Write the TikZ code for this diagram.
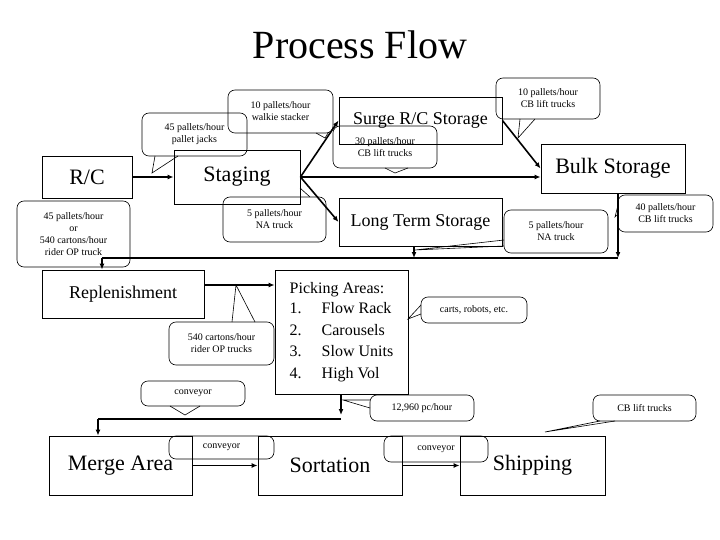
\documentclass[tikz,border=0pt]{standalone}
\usepackage{fontspec}
\setmainfont{Liberation Serif}
\usetikzlibrary{arrows.meta}
\begin{document}
\begin{tikzpicture}[x=1pt,y=-1pt,
  box/.style={draw,line width=0.9pt,rectangle,inner sep=2pt},
  call/.style={draw,line width=0.6pt,rounded corners=7pt,inner sep=0pt,align=center,font=\fontsize{10}{12}\selectfont},
  arr/.style={line width=1.6pt,-{Latex[length=6pt,width=5pt]}},
  ln/.style={line width=1.6pt},
  tail/.style={line width=0.6pt}]
\newcommand\mycall[6]{\node[call,minimum width={(#4-#2)*1pt},minimum height={(#5-#3)*1pt}] (#1) at ({(#2+#4)/2},{(#3+#5)/2}) {#6};}
\newcommand\mybox[6]{\node[box,minimum width={(#4-#2)*1pt},minimum height={(#5-#3)*1pt}] (#1) at ({(#2+#4)/2},{(#3+#5)/2}) {#6};}
\useasboundingbox (0,0) rectangle (720,540);
\node (title) at (360,45) {\fontsize{40}{44}\selectfont Process Flow};
% boxes
\mybox{rc}{42}{156}{132}{198}{\fontsize{22}{24}\selectfont R/C\hspace{30pt}}
\mybox{stg}{174}{150}{300}{204}{\fontsize{22}{24}\selectfont Staging}
\mybox{sur}{339}{97}{502}{144}{\fontsize{18}{20}\selectfont Surge R/C Storage}
\mybox{bulk}{541}{144}{685}{193}{\fontsize{22}{24}\selectfont Bulk Storage}
\mybox{lts}{339}{198}{502}{246}{\fontsize{18}{20}\selectfont Long Term Storage}
\mybox{rep}{42}{270}{204}{318}{\fontsize{18}{20}\selectfont Replenishment\hspace{25pt}}
\node[box,minimum width=133pt,minimum height=124pt,align=left,font=\fontsize{16}{21.5}\selectfont] (pick) at (341.5,332) {Picking Areas:\\[-1pt]1.\hspace{20pt}Flow Rack\\2.\hspace{20pt}Carousels\\3.\hspace{20pt}Slow Units\\4.\hspace{20pt}High Vol};
\mybox{merge}{49}{436}{192}{495}{\fontsize{22}{24}\selectfont Merge Area}
\mybox{sort}{258}{436}{402}{495}{\fontsize{22}{24}\selectfont Sortation}
\mybox{ship}{460}{436}{605}{495}{\fontsize{22}{24}\selectfont Shipping\hspace{15pt}}
% connectors
\draw[arr] (rc.east) -- (stg.west);
\draw[arr] (stg.east) -- (sur.west);
\draw[arr] (stg.east) -- (stg.east -| bulk.west);
\draw[arr] (stg.east) -- (lts.west);
\draw[arr] (sur.east) -- (bulk.west);
\coordinate (j1) at (618,258);
\coordinate (j2) at (414,258);
\coordinate (j3) at (102,258);
\draw[arr] (bulk.south -| j1) -- (j1);
\draw[arr] (lts.south -| j2) -- (j2);
\draw[ln] (j1) -- (j3);
\draw[arr] (j3) -- (rep.north -| j3);
\draw[arr] (rep.east |- 0,285) -- (pick.west |- 0,285);
\coordinate (p1) at (341,415);
\coordinate (p2) at (341,419);
\coordinate (p3) at (98,419);
\draw[arr] (pick.south -| p1) -- (p1);
\draw[ln] (p2) -- (p3);
\draw[arr] (p3) -- (merge.north -| p3);
\draw[arr] (merge.east) -- (sort.west);
\draw[arr] (sort.east) -- (ship.west);
% callouts
\mycall{c1}{142}{113}{247}{156}{45 pallets/hour\\pallet jacks}
\draw[tail] (155,156) -- (152,173) -- (178,156);
\mycall{c2}{228}{90}{333}{133}{10 pallets/hour\\walkie stacker}
\draw[tail] (316,133) -- (325,138) -- (328,133);
\mycall{c3}{223}{197}{326}{242}{5 pallets/hour\\NA truck}
\draw[tail] (300,188) -- (310,197);
\mycall{c4}{17}{201}{130}{267}{45 pallets/hour\\or\\540 cartons/hour\\rider OP truck}
\mycall{c5}{333}{126}{437}{168}{30 pallets/hour\\CB lift trucks}
\draw[tail] (385,168) -- (395,173) -- (408,168);
\mycall{c6}{496}{78}{600}{119}{10 pallets/hour\\CB lift trucks}
\draw[tail] (520,119) -- (518,138) -- (535,119);
\mycall{c7}{618}{195}{713}{232}{40 pallets/hour\\CB lift trucks}
\draw[tail] (618,205) -- (615,217) -- (618,214);
\mycall{c8}{504}{210}{608}{253}{5 pallets/hour\\NA truck}
\draw[tail] (504,240) -- (415,250) -- (504,246);
\mycall{c9}{421}{297}{527}{323}{carts, robots, etc.}
\draw[tail] (421,305) -- (408,319) -- (421,314);
\mycall{c10}{169}{322}{274}{365}{540 cartons/hour\\rider OP trucks}
\draw[tail] (232,322) -- (236,285) -- (255,322);
\mycall{c11}{141}{381}{245}{406}{conveyor}
\draw[tail] (170,406) -- (185,415) -- (200,406);
\mycall{c12}{370}{395}{474}{421}{12,960 pc/hour}
\draw[tail] (370,400) -- (343,400) -- (370,408);
\mycall{c13}{593}{395}{696}{421}{CB lift trucks}
\draw[tail] (600,421) -- (545,432) -- (615,421);
\mycall{c14}{169}{436}{274}{459}{conveyor}
\mycall{c15}{384}{436}{488}{462}{conveyor}
\end{tikzpicture}
\end{document}
